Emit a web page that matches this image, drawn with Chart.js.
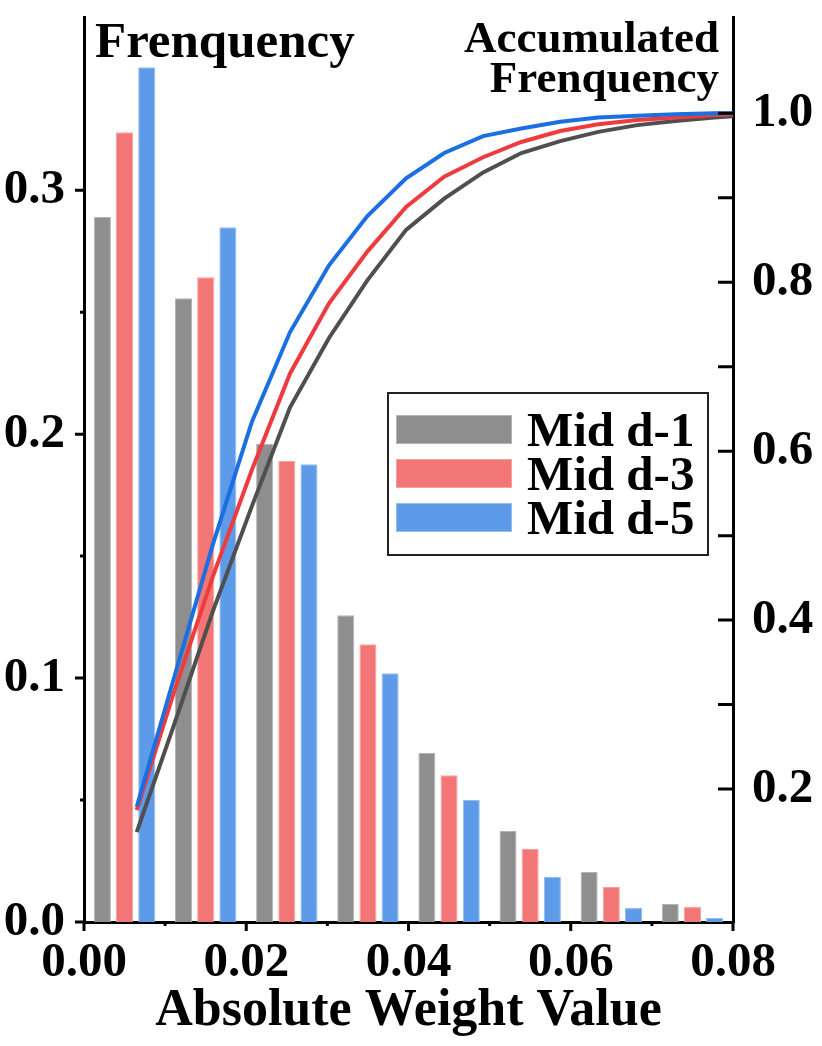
<!DOCTYPE html>
<html>
<head>
<meta charset="utf-8">
<title>Absolute Weight Value</title>
<script src="https://cdn.jsdelivr.net/npm/chart.js@4.4.1/dist/chart.umd.min.js"></script>
<style>
    html, body { margin: 0; padding: 0; background: #fff; }
    #wrap { width: 822px; height: 1046px; }
</style>
</head>
<body>
<div id="wrap"><canvas id="chart" width="822" height="1046"></canvas></div>
<script>

/* ---------------- Data ---------------- */

const seriesNames = ["Mid d-1", "Mid d-3", "Mid d-5"];

// histogram bins (bin centres) and frequencies
const binCenters = [0.005, 0.015, 0.025, 0.035, 0.045, 0.055, 0.065, 0.075];
const freqD1 = [0.289, 0.2557, 0.196, 0.1258, 0.0693, 0.0373, 0.0205, 0.0074];
const freqD3 = [0.3238, 0.2643, 0.189, 0.1139, 0.0602, 0.0299, 0.0143, 0.0061];
const freqD5 = [0.3504, 0.2848, 0.1877, 0.102, 0.05, 0.0184, 0.0057, 0.0016];

// accumulated frequency curves
const cdfX = [0.0065, 0.0112, 0.0159, 0.0207, 0.0254, 0.0302, 0.0349, 0.0397, 0.0444,
              0.0492, 0.0539, 0.0587, 0.0634, 0.0682, 0.0729, 0.0777, 0.0824];
const cdfD1 = [0.149, 0.279, 0.411, 0.535, 0.652, 0.734, 0.802, 0.862, 0.899,
               0.930, 0.953, 0.967, 0.978, 0.986, 0.991, 0.995, 0.998];
const cdfD3 = [0.175, 0.318, 0.452, 0.578, 0.692, 0.775, 0.836, 0.889, 0.925,
               0.948, 0.966, 0.979, 0.987, 0.992, 0.995, 0.998, 1.0];
const cdfD5 = [0.179, 0.335, 0.490, 0.635, 0.741, 0.820, 0.878, 0.923, 0.953,
               0.973, 0.982, 0.990, 0.995, 0.997, 0.999, 1.0, 1.0];

// tick labels
const xTickLabels = ["0.00", "0.02", "0.04", "0.06", "0.08"];
const leftTickLabels = ["0.0", "0.1", "0.2", "0.3"];
const rightTickLabels = ["0.2", "0.4", "0.6", "0.8", "1.0"];

const leftTitle = "Frenquency";
const rightTitle = ["Accumulated", "Frenquency"];
const xTitle = "Absolute Weight Value";

/* ---------------- Styles ---------------- */

const FONT = "'Liberation Serif', 'Times New Roman', serif";
const barColors = ["#8e8e8e", "#f27676", "#5d9be8"];
const barEdges = ["#b4b4b4", "#f7a0a0", "#91bcef"];
const lineColors = ["#4f4f4f", "#ee3b3e", "#1b6fe0"];

const isStep = (v, step) => Math.abs(v / step - Math.round(v / step)) < 1e-6;

// only label ticks that sit on the label step and are in the list
const pick = (labels, step, digits) => value => {
    if (!isStep(value, step)) return "";
    const s = Number(value).toFixed(digits);
    return labels.includes(s) ? s : "";
};

// drop the extra room Chart.js keeps for half a tick label
const tightFit = width => scale => {
    if (width !== undefined) scale.width = width;
    scale.paddingTop = 0;
    scale.paddingBottom = 0;
};

/* ---------------- Plugins ---------------- */

// tick marks: outward on left / bottom, inward on right
const tickMarks = {
    id: "tickMarks",
    afterDraw(chart) {
        const { ctx, chartArea, scales } = chart;
        ctx.save();
        ctx.strokeStyle = "#000";
        ctx.lineWidth = 3;
        ctx.beginPath();

        scales.x.ticks.forEach(t => {
            if (!isStep(t.value, 0.01)) return;
            const px = scales.x.getPixelForValue(t.value);
            const len = isStep(t.value, 0.02) ? 9 : 4;
            ctx.moveTo(px, chartArea.bottom);
            ctx.lineTo(px, chartArea.bottom + len);
        });

        scales.y.ticks.forEach(t => {
            if (!isStep(t.value, 0.05)) return;
            const py = scales.y.getPixelForValue(t.value);
            const len = isStep(t.value, 0.1) ? 9 : 4;
            ctx.moveTo(chartArea.left, py);
            ctx.lineTo(chartArea.left - len, py);
        });

        scales.y1.ticks.forEach(t => {
            if (!isStep(t.value, 0.1) || t.value < scales.y1.min) return;
            const py = scales.y1.getPixelForValue(t.value);
            ctx.moveTo(chartArea.right, py);
            ctx.lineTo(chartArea.right - 15, py);
        });

        ctx.stroke();
        ctx.restore();
    }
};

// axis titles at the top corners
const cornerTitles = {
    id: "cornerTitles",
    afterDraw(chart) {
        const { ctx, chartArea } = chart;
        ctx.save();
        ctx.fillStyle = "#000";
        ctx.textBaseline = "alphabetic";

        ctx.font = `bold 51px ${FONT}`;
        ctx.textAlign = "left";
        ctx.fillText(leftTitle, chartArea.left + 11, chartArea.top + 40);

        ctx.font = `bold 45px ${FONT}`;
        ctx.textAlign = "right";
        rightTitle.forEach((line, i) => {
            ctx.fillText(line, chartArea.right - 14, chartArea.top + 35 + i * 40);
        });
        ctx.restore();
    }
};

// boxed legend inside the plot area
const boxLegend = {
    id: "boxLegend",
    afterDraw(chart) {
        const { ctx, chartArea } = chart;
        const bars = chart.data.datasets.filter(d => d.type === "bar");
        const bx = chartArea.left + 304;
        const by = chartArea.top + 376;
        const bw = 320;
        const bh = 162;

        ctx.save();
        ctx.fillStyle = "#fff";
        ctx.fillRect(bx, by, bw, bh);
        ctx.strokeStyle = "#222";
        ctx.lineWidth = 2;
        ctx.strokeRect(bx, by, bw, bh);

        ctx.font = `bold 49px ${FONT}`;
        ctx.textAlign = "left";
        ctx.textBaseline = "alphabetic";

        bars.forEach((d, i) => {
            const rowTop = by + 22 + i * 44;
            ctx.fillStyle = d.borderColor;
            ctx.fillRect(bx + 8, rowTop, 116, 29);
            ctx.fillStyle = d.backgroundColor;
            ctx.fillRect(bx + 9, rowTop + 1, 114, 27);
            ctx.fillStyle = "#000";
            ctx.fillText(d.label, bx + 139, rowTop + 31);
        });
        ctx.restore();
    }
};

/* ---------------- Chart ---------------- */

const freqSets = [freqD1, freqD3, freqD5];
const cdfSets = [cdfD1, cdfD3, cdfD5];

const barDatasets = freqSets.map((values, i) => ({
    type: "bar",
    label: seriesNames[i],
    data: binCenters.map((x, j) => ({ x, y: values[j] })),
    backgroundColor: barColors[i],
    borderColor: barEdges[i],
    borderWidth: 1,
    borderSkipped: "bottom",
    categoryPercentage: 0.82,
    barPercentage: 0.77,
    xAxisID: "x",
    yAxisID: "y",
    order: 10
}));

const lineDatasets = cdfSets.map((values, i) => ({
    type: "line",
    label: seriesNames[i] + " (acc.)",
    data: cdfX.map((x, j) => ({ x, y: values[j] })),
    borderColor: lineColors[i],
    borderWidth: 4,
    pointRadius: 0,
    tension: 0,
    fill: false,
    xAxisID: "x",
    yAxisID: "y1",
    order: 3 - i
}));

const tickFont = { family: FONT, size: 49, weight: "bold" };

new Chart(document.getElementById("chart"), {

    type: "bar",

    data: {
        datasets: [...barDatasets, ...lineDatasets]
    },

    options: {

        responsive: false,
        animation: false,
        devicePixelRatio: 1,

        layout: {
            padding: { top: 17, left: 0, right: 0, bottom: 0 }
        },

        plugins: {
            legend: { display: false },
            tooltip: { enabled: false },
            title: { display: false }
        },

        scales: {

            x: {
                type: "linear",
                position: "bottom",
                min: 0,
                max: 0.08,
                offset: false,
                grid: { display: false, drawTicks: false, offset: false },
                border: { display: true, color: "#000", width: 3 },
                ticks: {
                    stepSize: 0.01,
                    autoSkip: false,
                    maxRotation: 0,
                    padding: 12,
                    color: "#000",
                    font: tickFont,
                    callback: pick(xTickLabels, 0.02, 2)
                },
                title: {
                    display: true,
                    text: xTitle,
                    color: "#000",
                    font: { family: FONT, size: 52, weight: "bold" },
                    padding: { top: 0, bottom: 3 }
                },
                afterFit(scale) {
                    scale.height = 124;
                    scale.paddingLeft = 0;
                    scale.paddingRight = 0;
                }
            },

            y: {
                type: "linear",
                position: "left",
                min: 0,
                max: 0.371,
                grid: { display: false, drawTicks: false },
                border: { display: true, color: "#000", width: 3 },
                ticks: {
                    stepSize: 0.05,
                    autoSkip: false,
                    padding: 19,
                    color: "#000",
                    font: tickFont,
                    callback: pick(leftTickLabels, 0.1, 1)
                },
                afterFit: tightFit(84)
            },

            y1: {
                type: "linear",
                position: "right",
                min: 0.0426,
                max: 1.114,
                grid: { display: false, drawTicks: false },
                border: { display: true, color: "#000", width: 3 },
                ticks: {
                    stepSize: 0.1,
                    autoSkip: false,
                    padding: 19,
                    color: "#000",
                    font: tickFont,
                    callback: pick(rightTickLabels, 0.2, 1)
                },
                afterFit: tightFit(89)
            }

        }

    },

    plugins: [tickMarks, cornerTitles, boxLegend]

});

</script>
</body>
</html>
